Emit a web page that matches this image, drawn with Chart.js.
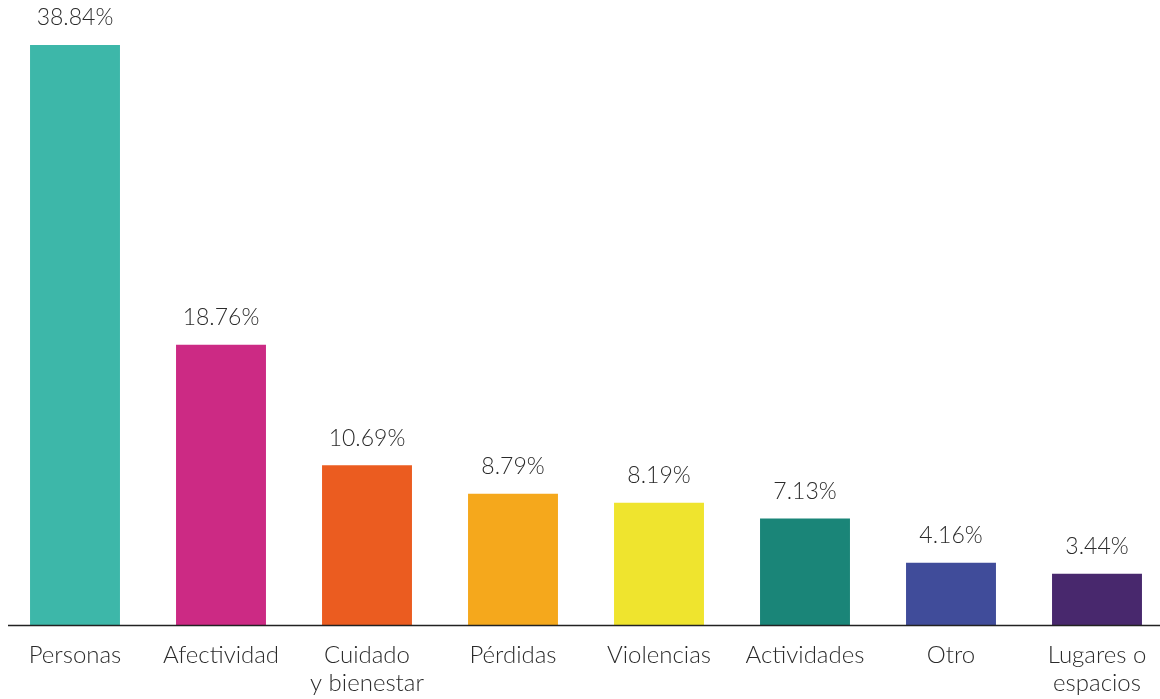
<!DOCTYPE html>
<html>
<head>
<meta charset="utf-8">
<script src="https://cdn.jsdelivr.net/npm/chart.js@4"></script>
<style>
html,body{margin:0;padding:0;background:#fff;overflow:hidden;width:1160px;height:699px;}
canvas{display:block;}
</style>
</head>
<body>
<canvas id="c" width="1172" height="699"></canvas>
<script>
const categories = [["Personas"], ["Afectividad"], ["Cuidado", "y bienestar"], ["Pérdidas"], ["Violencias"], ["Actividades"], ["Otro"], ["Lugares o", "espacios"]];
const values = [38.84, 18.76, 10.69, 8.79, 8.19, 7.13, 4.16, 3.44];
const valueLabels = ["38.84%", "18.76%", "10.69%", "8.79%", "8.19%", "7.13%", "4.16%", "3.44%"];
const colors = ["#3db7a9", "#cc2a84", "#eb5c20", "#f5a81c", "#efe42e", "#1a8578", "#404c9a", "#48286d"];

const FONT = "Lato, 'Open Sans', sans-serif";

const valueLabelPlugin = {
  id: 'valueLabels',
  afterDatasetsDraw(chart) {
    const ctx = chart.ctx;
    const meta = chart.getDatasetMeta(0);
    ctx.save();
    ctx.font = "300 23px " + FONT;
    ctx.fillStyle = "#2b2b2b";
    ctx.textAlign = "center";
    ctx.textBaseline = "middle";
    meta.data.forEach((bar, i) => {
      ctx.fillText(valueLabels[i], bar.x, bar.y - 27);
    });
    // baseline
    const y0 = chart.scales.y.getPixelForValue(0);
    ctx.strokeStyle = "#222222";
    ctx.lineWidth = 1.5;
    ctx.beginPath();
    ctx.moveTo(8, y0 + 0.5);
    ctx.lineTo(chart.width, y0 + 0.5);
    ctx.stroke();
    ctx.restore();
  }
};

new Chart(document.getElementById('c'), {
  type: 'bar',
  data: {
    labels: categories,
    datasets: [{
      data: values,
      backgroundColor: colors,
      borderWidth: 0,
      categoryPercentage: 1,
      barPercentage: 0.616
    }]
  },
  options: {
    responsive: false,
    animation: false,
    layout: { padding: { left: 2, right: 2, top: 0, bottom: 0 } },
    plugins: { legend: { display: false }, tooltip: { enabled: false } },
    scales: {
      x: {
        grid: { display: false },
        border: { display: false },
        afterFit(scale) { scale.height = 74; },
        ticks: {
          color: "#2b2b2b",
          font: { family: FONT, size: 24, weight: 300, lineHeight: 1.17 },
          padding: 8,
          maxRotation: 0,
          autoSkip: false
        }
      },
      y: {
        display: false,
        min: 0,
        max: 41.85
      }
    }
  },
  plugins: [valueLabelPlugin]
});
</script>
</body>
</html>
